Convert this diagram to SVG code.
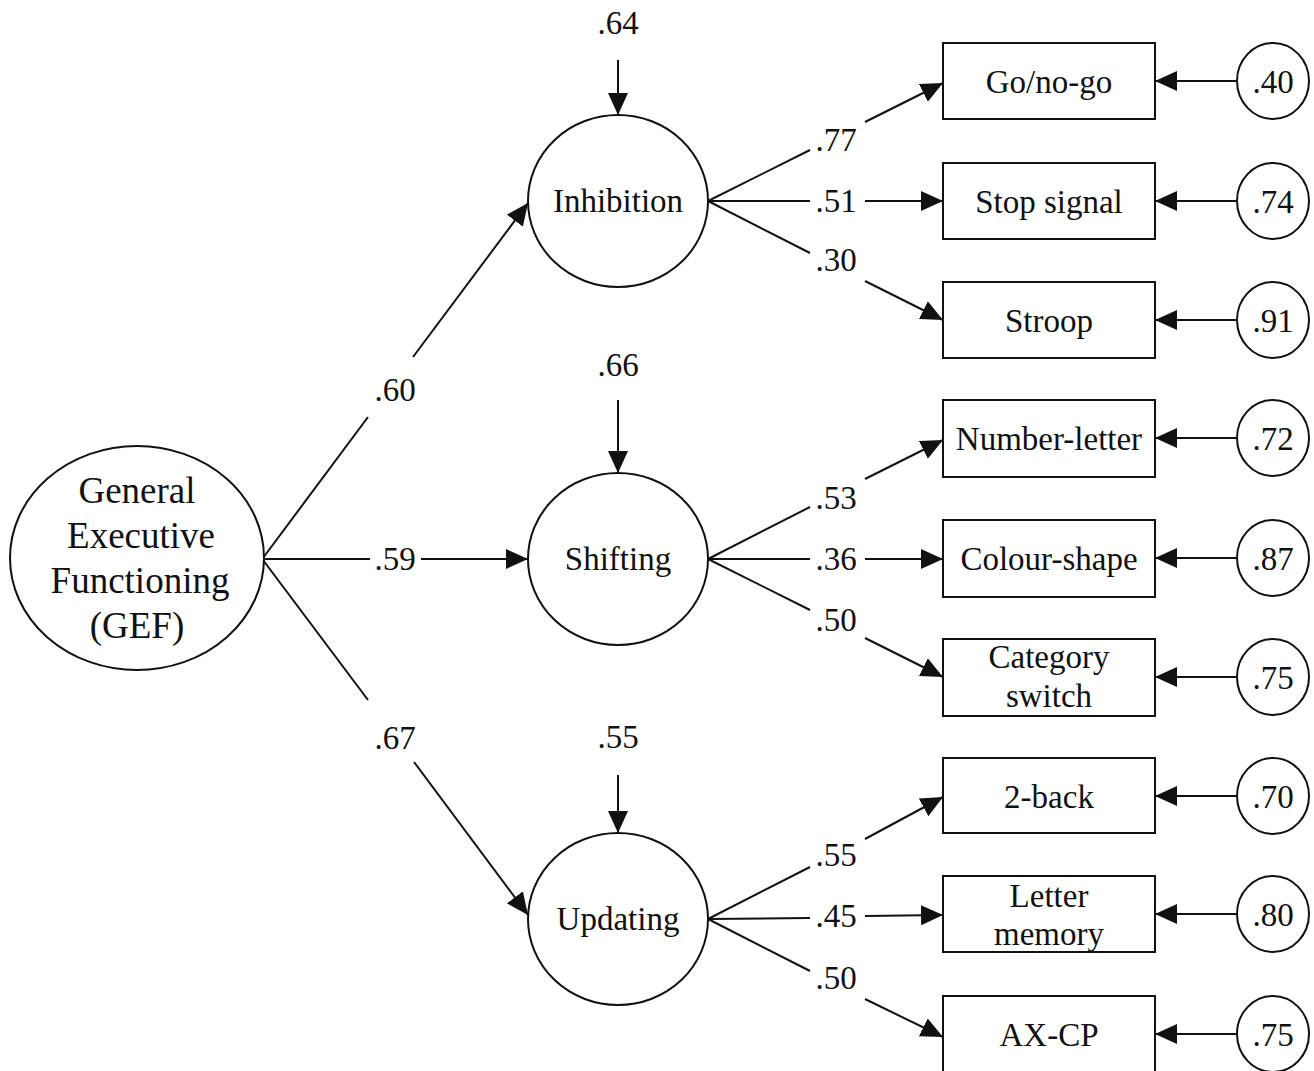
<svg xmlns="http://www.w3.org/2000/svg" width="1314" height="1071" viewBox="0 0 1314 1071">
<style>
text{font-family:"Liberation Serif","Times New Roman",serif;font-size:33px;fill:#111;text-anchor:middle}
.gef{font-size:37px}
.shape{fill:#fff;stroke:#111;stroke-width:2}
.ln{stroke:#111;stroke-width:2;fill:none}
.ar{stroke:#111;stroke-width:2;fill:none;marker-end:url(#ah)}
</style>
<defs>
<marker id="ah" markerUnits="userSpaceOnUse" markerWidth="22" markerHeight="20" refX="22" refY="10" orient="auto">
<path d="M0,0 L22,10 L0,20 z" fill="#111"/>
</marker>
</defs>
<rect width="1314" height="1071" fill="#fff"/>
<g id="connectors">
<!-- GEF to latents -->
<line class="ln" x1="263" y1="558" x2="368" y2="417"/>
<line class="ar" x1="413" y1="357" x2="528" y2="203"/>
<line class="ln" x1="264" y1="559" x2="370" y2="559"/>
<line class="ar" x1="421" y1="559" x2="528" y2="559"/>
<line class="ln" x1="263" y1="560" x2="368" y2="700"/>
<line class="ar" x1="414" y1="762" x2="528" y2="915"/>
<!-- disturbances -->
<line class="ar" x1="618" y1="60" x2="618" y2="115"/>
<line class="ar" x1="618" y1="400" x2="618" y2="473"/>
<line class="ar" x1="618" y1="775" x2="618" y2="833"/>
<!-- Inhibition loadings -->
<line class="ln" x1="708" y1="201" x2="810" y2="150"/>
<line class="ar" x1="865" y1="122" x2="943" y2="83"/>
<line class="ln" x1="708" y1="201" x2="810" y2="201"/>
<line class="ar" x1="865" y1="201" x2="943" y2="201"/>
<line class="ln" x1="708" y1="201" x2="810" y2="253"/>
<line class="ar" x1="865" y1="281" x2="943" y2="320"/>
<!-- Shifting loadings -->
<line class="ln" x1="708" y1="559" x2="810" y2="507"/>
<line class="ar" x1="865" y1="479" x2="943" y2="440"/>
<line class="ln" x1="708" y1="559" x2="810" y2="559"/>
<line class="ar" x1="865" y1="559" x2="943" y2="559"/>
<line class="ln" x1="708" y1="559" x2="810" y2="610"/>
<line class="ar" x1="865" y1="638" x2="943" y2="677"/>
<!-- Updating loadings -->
<line class="ln" x1="708" y1="919" x2="810" y2="867"/>
<line class="ar" x1="865" y1="839" x2="943" y2="797"/>
<line class="ln" x1="708" y1="919" x2="810" y2="918"/>
<line class="ar" x1="865" y1="916" x2="943" y2="915"/>
<line class="ln" x1="708" y1="919" x2="810" y2="971"/>
<line class="ar" x1="865" y1="999" x2="943" y2="1037"/>
<!-- residual arrows -->
<line class="ar" x1="1237" y1="81" x2="1155" y2="81"/>
<line class="ar" x1="1237" y1="201" x2="1155" y2="201"/>
<line class="ar" x1="1237" y1="320" x2="1155" y2="320"/>
<line class="ar" x1="1237" y1="438" x2="1155" y2="438"/>
<line class="ar" x1="1237" y1="558" x2="1155" y2="558"/>
<line class="ar" x1="1237" y1="677" x2="1155" y2="677"/>
<line class="ar" x1="1237" y1="796" x2="1155" y2="796"/>
<line class="ar" x1="1237" y1="914" x2="1155" y2="914"/>
<line class="ar" x1="1237" y1="1034" x2="1155" y2="1034"/>
<!-- path labels -->
<text x="618" y="34">.64</text>
<text x="618" y="376">.66</text>
<text x="618" y="748">.55</text>
<text x="395" y="401">.60</text>
<text x="395" y="570">.59</text>
<text x="395" y="749">.67</text>
<text x="836" y="151">.77</text>
<text x="836" y="212">.51</text>
<text x="836" y="271">.30</text>
<text x="836" y="509">.53</text>
<text x="836" y="570">.36</text>
<text x="836" y="631">.50</text>
<text x="836" y="866">.55</text>
<text x="836" y="927">.45</text>
<text x="836" y="989">.50</text>
</g>
<g id="gef">
<ellipse class="shape" cx="137" cy="558" rx="127" ry="112"/>
<text class="gef" x="137" y="503">General</text>
<text class="gef" x="141" y="548">Executive</text>
<text class="gef" x="140" y="593">Functioning</text>
<text class="gef" x="137" y="638">(GEF)</text>
</g>
<g id="inhibition">
<ellipse class="shape" cx="618" cy="201" rx="90" ry="86"/>
<text x="618" y="212">Inhibition</text>
</g>
<g id="shifting">
<ellipse class="shape" cx="618" cy="559" rx="90" ry="86"/>
<text x="618" y="570">Shifting</text>
</g>
<g id="updating">
<ellipse class="shape" cx="618" cy="919" rx="90" ry="86"/>
<text x="618" y="930">Updating</text>
</g>
<g id="gonogo"><rect class="shape" x="943" y="43" width="212" height="76"/><text x="1049" y="93">Go/no-go</text></g>
<g id="stopsignal"><rect class="shape" x="943" y="163" width="212" height="76"/><text x="1049" y="213">Stop signal</text></g>
<g id="stroop"><rect class="shape" x="943" y="282" width="212" height="76"/><text x="1049" y="332">Stroop</text></g>
<g id="numberletter"><rect class="shape" x="943" y="400" width="212" height="77"/><text x="1049" y="450">Number-letter</text></g>
<g id="colourshape"><rect class="shape" x="943" y="520" width="212" height="77"/><text x="1049" y="570">Colour-shape</text></g>
<g id="categoryswitch"><rect class="shape" x="943" y="639" width="212" height="77"/><text x="1049" y="668">Category</text><text x="1049" y="707">switch</text></g>
<g id="twoback"><rect class="shape" x="943" y="758" width="212" height="75"/><text x="1049" y="808">2-back</text></g>
<g id="lettermemory"><rect class="shape" x="943" y="876" width="212" height="76"/><text x="1049" y="907">Letter</text><text x="1049" y="945">memory</text></g>
<g id="axcp"><rect class="shape" x="943" y="996" width="212" height="78"/><text x="1049" y="1046">AX-CP</text></g>
<g id="e1"><ellipse class="shape" cx="1273" cy="81" rx="36" ry="38"/><text x="1273" y="93">.40</text></g>
<g id="e2"><ellipse class="shape" cx="1273" cy="201" rx="36" ry="38"/><text x="1273" y="213">.74</text></g>
<g id="e3"><ellipse class="shape" cx="1273" cy="320" rx="36" ry="38"/><text x="1273" y="332">.91</text></g>
<g id="e4"><ellipse class="shape" cx="1273" cy="438" rx="36" ry="38"/><text x="1273" y="450">.72</text></g>
<g id="e5"><ellipse class="shape" cx="1273" cy="558" rx="36" ry="38"/><text x="1273" y="570">.87</text></g>
<g id="e6"><ellipse class="shape" cx="1273" cy="677" rx="36" ry="38"/><text x="1273" y="689">.75</text></g>
<g id="e7"><ellipse class="shape" cx="1273" cy="796" rx="36" ry="38"/><text x="1273" y="808">.70</text></g>
<g id="e8"><ellipse class="shape" cx="1273" cy="914" rx="36" ry="38"/><text x="1273" y="926">.80</text></g>
<g id="e9"><ellipse class="shape" cx="1273" cy="1034" rx="36" ry="38"/><text x="1273" y="1046">.75</text></g>
</svg>
